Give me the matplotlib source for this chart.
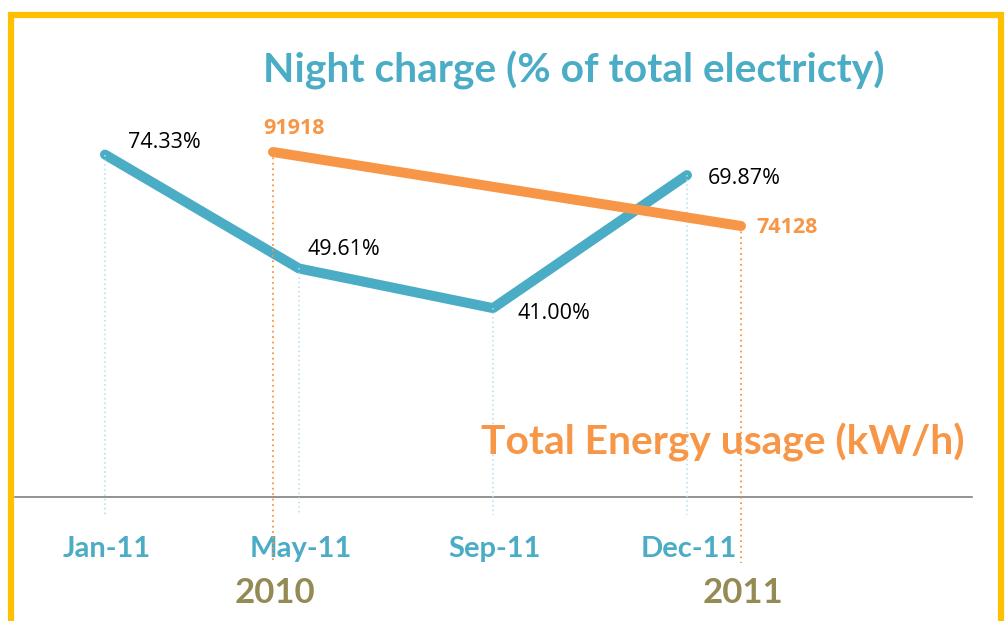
import matplotlib.pyplot as plt
from matplotlib.patches import Rectangle

# data
months = ["Jan-11", "May-11", "Sep-11", "Dec-11"]
night_pct = [74.33, 49.61, 41.00, 69.87]
night_lbl = ["74.33%", "49.61%", "41.00%", "69.87%"]
years = [2010, 2011]
energy = [91918, 74128]

blue = "#4BACC6"
orange = "#F79646"
olive = "#948A54"
bold_font = ["Lato", "DejaVu Sans"]

W, H = 1005, 621
fig = plt.figure(figsize=(W / 100, H / 100), dpi=100)

# axes box in pixels: x 15..972, y 20..497 (top to bottom)
pos = [15 / W, (H - 497) / H, 957 / W, 477 / H]
ax = fig.add_axes(pos)
ax2 = fig.add_axes(pos)
for a in (ax, ax2):
    a.patch.set_visible(False)
    for s in a.spines.values():
        s.set_visible(False)
ax.spines["bottom"].set_visible(True)
ax.spines["bottom"].set_color("#808080")
ax.spines["bottom"].set_linewidth(1.2)

xs = list(range(len(months)))
ax.set_xlim(-90 / 194, 867 / 194)
ax.set_ylim(0, 103.55)
ax2.set_xlim(2010 - 258 / 468, 2011 + 231 / 468)
ax2.set_ylim(8980, 123650)
ax2.set_xticks([])
ax2.set_yticks([])
ax.set_yticks([])

ax.plot(xs, night_pct, color=blue, lw=7.2, solid_capstyle="round",
        solid_joinstyle="round", zorder=2)
ax2.plot(years, energy, color=orange, lw=7.2, solid_capstyle="round",
         zorder=2)

# dotted drop lines
for x, v in zip(xs, night_pct):
    ax.plot([x, x], [v, -3.8], color="#B4DCEB", lw=1.1, ls=(0, (1, 2)),
            clip_on=False, zorder=5)
for x, v in zip(years, energy):
    ax2.plot([x, x], [v, 8980 - 66 * 240.4], color=orange, lw=1.3,
             ls=(0, (1, 2)), clip_on=False, zorder=6)

# value labels
offs = [(23, 7), (9, 13), (24, -11), (21, -9)]
for x, v, t, o in zip(xs, night_pct, night_lbl, offs):
    ax.annotate(t, (x, v), xytext=o, textcoords="offset pixels",
                fontsize=15.5, color="black", va="baseline",
                family=["Open Sans", "DejaVu Sans"], zorder=7)
offs2 = [(-10, 18), (15, -7)]
for x, v, o in zip(years, energy, offs2):
    ax2.annotate(str(v), (x, v), xytext=o, textcoords="offset pixels",
                 fontsize=15.5, color=orange, fontweight="bold",
                 va="baseline", family=["Open Sans", "DejaVu Sans"], zorder=7)

# month labels
ax.set_xticks(xs)
ax.set_xticklabels([])
ax.tick_params(axis="x", length=0)
for x, m in zip(xs, months):
    ax.annotate(m, (x, 0), xycoords=("data", "axes fraction"),
                xytext=(2, -60), textcoords="offset pixels", ha="center",
                va="baseline", color=blue, fontweight="bold", fontsize=21,
                family=bold_font, annotation_clip=False)
for y in years:
    ax2.annotate(str(y), (y, 0), xycoords=("data", "axes fraction"),
                 xytext=(2, -106), textcoords="offset pixels", ha="center",
                 va="baseline", color=olive, fontweight="bold", fontsize=25,
                 family=bold_font, annotation_clip=False)

fig.text(574 / W, 1 - 83 / H, "Night charge (% of total electricty)",
         color=blue, fontweight="bold", fontsize=29.3, ha="center",
         va="baseline", family=bold_font)
fig.text(723 / W, 1 - 455 / H, "Total Energy usage (kW/h)",
         color=orange, fontweight="bold", fontsize=29.3, ha="center",
         va="baseline", family=bold_font)

# yellow frame
fig.add_artist(Rectangle((11 / W, -0.1), 990 / W, (1 - 14.5 / H) + 0.1,
                         transform=fig.transFigure, fill=False,
                         edgecolor="#FFC000", lw=4.5))

fig.savefig("out.png", dpi=100)
